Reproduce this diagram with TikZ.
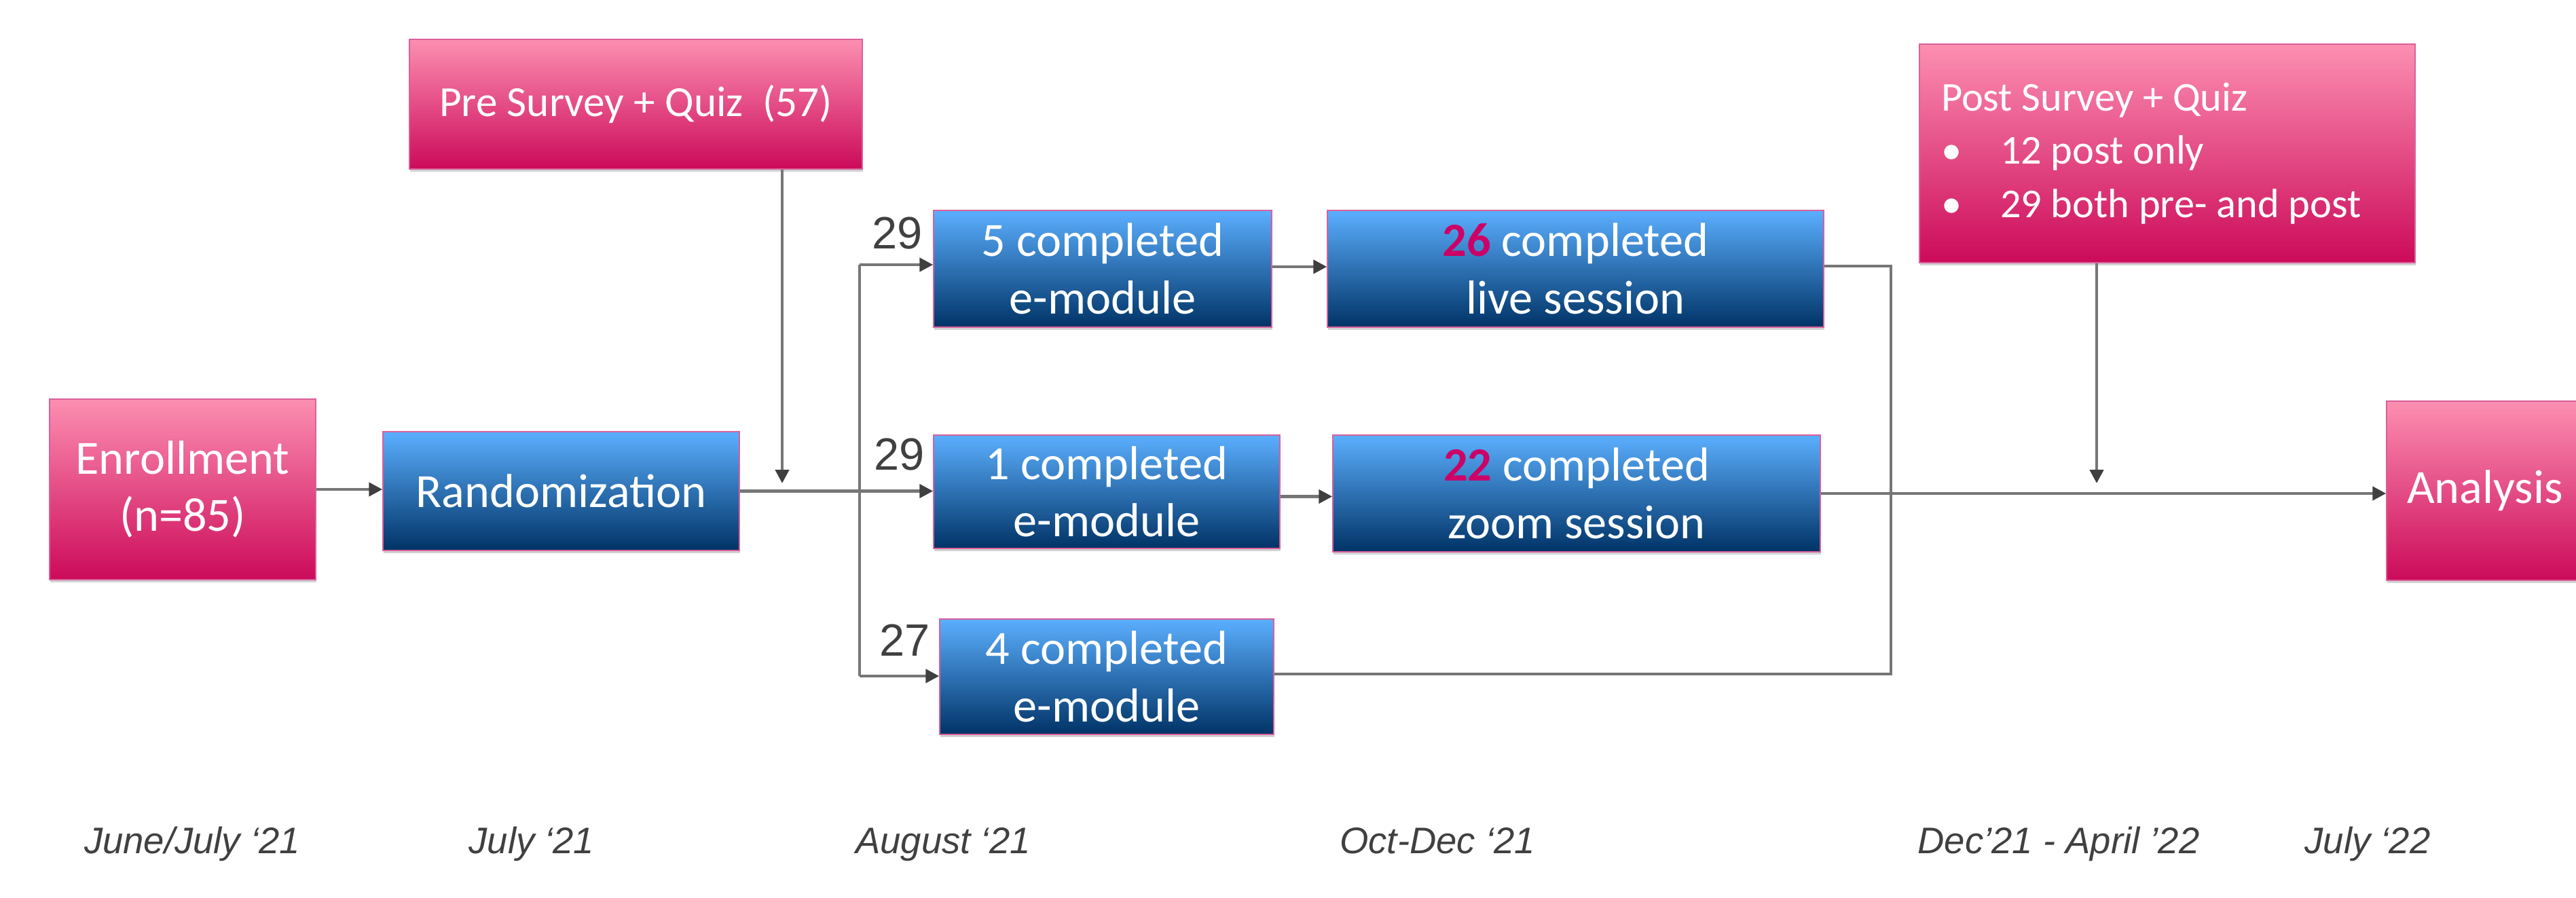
\documentclass[tikz,border=0pt]{standalone}
\usepackage{fontspec}
\setmainfont{Carlito}
\newfontfamily\arialf{Liberation Sans}
\usetikzlibrary{arrows.meta,shadows}
\definecolor{pinktop}{HTML}{FC8FB1}
\definecolor{pinkbot}{HTML}{CC0A5A}
\definecolor{bluetop}{HTML}{5BAFFF}
\definecolor{bluebot}{HTML}{003366}
\definecolor{bord}{HTML}{D9609A}
\definecolor{hl}{HTML}{CC0066}
\definecolor{linegray}{HTML}{767676}
\definecolor{tipgray}{HTML}{3F3F3F}
\definecolor{labgray}{HTML}{404040}
\begin{document}
\begin{tikzpicture}[
  box/.style={rectangle, draw=bord, line width=0.015cm, inner sep=0pt, text=white, align=center,
    drop shadow={shadow xshift=0.01cm, shadow yshift=-0.04cm, opacity=0.35, fill=black!50}},
  pinkbox/.style={box, top color=pinktop, bottom color=pinkbot},
  bluebox/.style={box, top color=bluetop, bottom color=bluebot},
  big/.style={font=\fontsize{20}{24}\selectfont},
  mid/.style={font=\fontsize{18}{22}\selectfont},
  small/.style={font=\fontsize{17.2}{22.3}\selectfont},
  conn/.style={draw=linegray, line width=0.045cm},
  arr/.style={conn, -{Triangle[length=0.2cm,width=0.2cm,color=tipgray]}},
  when/.style={font=\arialf\itshape\fontsize{15.5}{18}\selectfont, text=labgray, anchor=base, inner sep=0pt},
  num/.style={font=\arialf\fontsize{19}{22}\selectfont, text=labgray, anchor=base east, inner sep=0pt},
]
\useasboundingbox (0,0) rectangle (37.94,-13.22);
\fill[white] (0,0) rectangle (37.94,-13.22);

% boxes
\node[pinkbox, big, minimum width=3.92cm, minimum height=2.66cm] (enr) at (2.69,-7.21) {Enrollment\\(n=85)};
\node[bluebox, big, minimum width=5.25cm, minimum height=1.75cm] (rand) at (8.265,-7.235) {Randomization};
\node[pinkbox, mid, minimum width=6.67cm, minimum height=1.91cm] (pre) at (9.365,-1.535) {Pre Survey + Quiz\ \ (57)};
\node[bluebox, big, minimum width=4.98cm, minimum height=1.72cm] (em1) at (16.24,-3.96) {5 completed\\e-module};
\node[bluebox, big, minimum width=7.31cm, minimum height=1.72cm] (live) at (23.205,-3.96) {\textcolor{hl}{\textbf{26}} completed\\live session};
\node[bluebox, big, minimum width=5.10cm, minimum height=1.67cm] (em2) at (16.30,-7.245) {1 completed\\e-module};
\node[bluebox, big, minimum width=7.18cm, minimum height=1.72cm] (zoom) at (23.22,-7.27) {\textcolor{hl}{\textbf{22}} completed\\zoom session};
\node[bluebox, big, minimum width=4.92cm, minimum height=1.70cm] (em3) at (16.30,-9.97) {4 completed\\e-module};
\node[pinkbox, small, text width=6.66cm, inner xsep=0.32cm, minimum height=3.22cm, align=flush left] (post) at (31.92,-2.26)
  {Post Survey + Quiz\\\makebox[0.87cm][l]{•}12 post only\\\makebox[0.87cm][l]{•}29 both pre- and post};
\node[pinkbox, big, minimum width=2.90cm, minimum height=2.64cm] (ana) at (36.60,-7.23) {Analysis};

% connectors
\draw[arr] (enr.east) -- (enr.east -| rand.west);
\coordinate (s1) at (12.66,-3.90);
\coordinate (s3) at (12.66,-9.96);
\draw[conn] (s1) -- (s3);
\draw[arr] (rand.east) -- (rand.east -| em2.west);
\draw[arr] (s1) -- (s1 -| em1.west);
\draw[arr] (s3) -- (s3 -| em3.west);
\coordinate (prej) at (11.52,-7.12);
\draw[arr] (pre.south -| prej) -- (prej);
\draw[arr] ([yshift=0.03cm]em1.east) -- ([yshift=0.03cm]em1.east -| live.west);
\draw[arr] ([yshift=-0.07cm]em2.east) -- ([yshift=-0.07cm]em2.east -| zoom.west);
\coordinate (c1) at (27.85,-3.92);
\coordinate (c2) at (27.85,-9.93);
\draw[conn] (live.east |- c1) -- (c1) -- (c2) -- (em3.east |- c2);
\draw[arr] (zoom.east) -- (zoom.east -| ana.west);
\coordinate (postj) at (30.88,-7.12);
\draw[arr] (post.south -| postj) -- (postj);

% group sizes
\node[num] (n1) at (13.59,-3.66) {29};
\node[num] (n2) at (13.62,-6.92) {29};
\node[num] (n3) at (13.70,-9.66) {27};

% timeline
\node[when] (t1) at (2.83,-12.57) {June/July ‘21};
\node[when] (t2) at (7.83,-12.57) {July ‘21};
\node[when] (t3) at (13.89,-12.57) {August ‘21};
\node[when] (t4) at (21.17,-12.57) {Oct-Dec ‘21};
\node[when] (t5) at (30.32,-12.57) {Dec’21 - April ’22};
\node[when] (t6) at (34.87,-12.57) {July ‘22};
\end{tikzpicture}
\end{document}
